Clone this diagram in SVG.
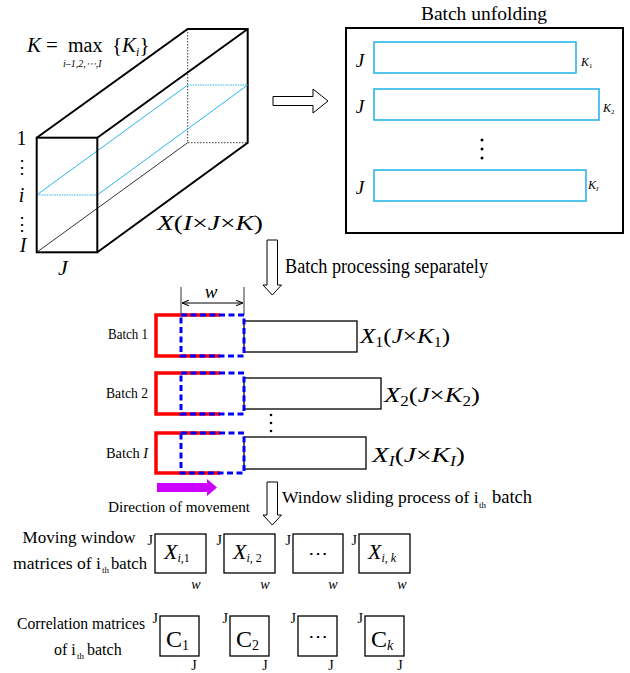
<svg xmlns="http://www.w3.org/2000/svg" width="630" height="673" viewBox="0 0 630 673">
<defs>
<style>
.t{font-family:"Liberation Serif","DejaVu Serif",serif;fill:#000}
.it{font-style:italic}
.up{font-style:normal}
.thick{fill:none;stroke:#000;stroke-width:2}
.thin{fill:none;stroke:#000;stroke-width:0.8}
.dot{fill:none;stroke:#000;stroke-width:0.8;stroke-dasharray:1.5,1.5}
.blue{fill:none;stroke:#29b6ea;stroke-width:1}
.bluedot{fill:none;stroke:#29b6ea;stroke-width:1;stroke-dasharray:1.5,1}
.brect{fill:#fff;stroke:#29b6ea;stroke-width:1.6}
.box{fill:#fff;stroke:#000;stroke-width:1.3}
.red{fill:none;stroke:#ff0000;stroke-width:3.5}
.bdash{fill:none;stroke:#0000ff;stroke-width:3;stroke-dasharray:6,3.5}
.hollow{fill:#fff;stroke:#000;stroke-width:1}
</style>
<marker id="ah" viewBox="0 0 10 10" refX="10" refY="5" markerWidth="7" markerHeight="7" orient="auto-start-reverse">
<path d="M0,1 L10,5 L0,9" fill="none" stroke="#000" stroke-width="1.5"/>
</marker>
</defs>
<rect width="630" height="673" fill="#fff"/>

<g id="cube">
<path d="M36.7,137.7 L187.7,29 L247.7,29 L247.7,142.7 L97.3,252.3 M97.3,137.7 L247.7,29" class="thick"/>
<path d="M36.7,252.3 L187.7,142.7" class="thin"/>
<path d="M187.7,29 V142.7 H247.7" class="dot"/>
<path d="M36.7,195 L187.7,85 M97.3,195 L247.7,85" class="blue"/>
<path d="M36.7,195 H97.3 M187.7,85 H247.7" class="bluedot"/>
<rect x="36.7" y="137.7" width="60.6" height="114.6" class="thick"/>
<text x="27" y="52" class="t it" font-size="21">K</text>
<text x="46" y="52" class="t" font-size="21">=</text>
<text x="68" y="52" class="t" font-size="20">max</text>
<text x="112" y="52" class="t" font-size="21">{<tspan class="it">K</tspan><tspan class="it" font-size="12" dy="4">i</tspan><tspan dy="-4">}</tspan></text>
<text x="63" y="67" class="t it" font-size="10">i–1,2,⋯,I</text>
<text x="21.5" y="145" class="t" font-size="20" text-anchor="middle">1</text>
<text x="21.5" y="173" class="t" font-size="18" text-anchor="middle">⋮</text>
<text x="21.5" y="202" class="t it" font-size="20" text-anchor="middle">i</text>
<text x="21.5" y="230" class="t" font-size="18" text-anchor="middle">⋮</text>
<text x="23" y="252" class="t it" font-size="20" text-anchor="middle">I</text>
<text x="63" y="275" class="t it" font-size="22" text-anchor="middle">J</text>
<text x="157" y="230" class="t it" font-size="21" textLength="106" lengthAdjust="spacingAndGlyphs">X<tspan class="up">(</tspan>I<tspan class="up">×</tspan>J<tspan class="up">×</tspan>K<tspan class="up">)</tspan></text>
</g>

<g id="unfold">
<text x="484" y="20" class="t" font-size="19.5" text-anchor="middle">Batch unfolding</text>
<rect x="346" y="28" width="277" height="205" fill="#fff" stroke="#000" stroke-width="2"/>
<rect x="374" y="42" width="202" height="31" class="brect"/>
<rect x="374" y="89" width="225" height="31" class="brect"/>
<rect x="374" y="170" width="212" height="31" class="brect"/>
<text x="360" y="67" class="t it" font-size="19" text-anchor="middle">J</text>
<text x="360" y="113" class="t it" font-size="19" text-anchor="middle">J</text>
<text x="360" y="194" class="t it" font-size="19" text-anchor="middle">J</text>
<text x="581" y="66" class="t it" font-size="12">K<tspan class="up" font-size="7" dy="2">1</tspan></text>
<text x="603" y="112" class="t it" font-size="12">K<tspan class="up" font-size="7" dy="2">2</tspan></text>
<text x="588" y="189" class="t it" font-size="12">K<tspan font-size="7" dy="2">I</tspan></text>
<circle cx="482" cy="140" r="1.5"/>
<circle cx="482" cy="149" r="1.5"/>
<circle cx="482" cy="158" r="1.5"/>
</g>

<g id="connectors">
<path d="M273,96.5 H313 V89 L328,101 L313,113 V105.5 H273 Z" class="hollow"/>
<path d="M267,240 H277.5 V285 H281.5 L272.3,295 L263,285 H267 Z" class="hollow"/>
<path d="M267,482 H277.5 V515 H281.5 L272.3,525 L263,515 H267 Z" class="hollow"/>
<path d="M157,483 H207 V479 L217,487.5 L207,496 V492 H157 Z" fill="#cc00ff"/>
</g>
<text x="285" y="273" class="t" font-size="20" textLength="203" lengthAdjust="spacingAndGlyphs">Batch processing separately</text>
<text x="282" y="503" class="t" font-size="17.5">Window sliding process of i</text>
<text x="479" y="508" class="t" font-size="9">th</text>
<text x="492" y="503" class="t" font-size="18.5">batch</text>
<text x="108" y="512" class="t" font-size="15" textLength="142" lengthAdjust="spacingAndGlyphs">Direction  of  movement</text>

<g id="width-dim">
<path d="M181,287 V315 M244,287 V315" stroke="#333" stroke-width="1" fill="none"/>
<path d="M182,303 H243" stroke="#000" stroke-width="1" fill="none" marker-start="url(#ah)" marker-end="url(#ah)"/>
<text x="211" y="298" class="t it" font-size="19" text-anchor="middle">w</text>
</g>

<g id="batch1">
<text x="108" y="339" class="t" font-size="14" textLength="40" lengthAdjust="spacingAndGlyphs">Batch 1</text>
<rect x="244" y="321" width="113" height="31" class="box"/>
<path d="M220,315 H156 V356 H220" class="red"/>
<rect x="181" y="315" width="63" height="41" class="bdash"/>
<text x="360" y="343" class="t it" font-size="22" textLength="90" lengthAdjust="spacingAndGlyphs">X<tspan class="up" font-size="14" dy="4">1</tspan><tspan class="up" dy="-4">(</tspan>J<tspan class="up">×</tspan>K<tspan class="up" font-size="14" dy="4">1</tspan><tspan class="up" dy="-4">)</tspan></text>
</g>

<g id="batch2">
<text x="106" y="398" class="t" font-size="14" textLength="42" lengthAdjust="spacingAndGlyphs">Batch 2</text>
<rect x="244" y="378" width="137" height="31" class="box"/>
<path d="M220,373 H156 V414 H220" class="red"/>
<rect x="181" y="373" width="63" height="41" class="bdash"/>
<text x="384" y="402" class="t it" font-size="22" textLength="96" lengthAdjust="spacingAndGlyphs">X<tspan class="up" font-size="14" dy="4">2</tspan><tspan class="up" dy="-4">(</tspan>J<tspan class="up">×</tspan>K<tspan class="up" font-size="14" dy="4">2</tspan><tspan class="up" dy="-4">)</tspan></text>
</g>

<g id="batch-dots">
<circle cx="271" cy="415" r="1.3"/>
<circle cx="271" cy="423" r="1.3"/>
<circle cx="271" cy="431" r="1.3"/>
</g>

<g id="batchI">
<text x="106" y="458" class="t" font-size="14" textLength="42" lengthAdjust="spacingAndGlyphs">Batch <tspan class="it">I</tspan></text>
<rect x="244" y="437" width="122" height="32" class="box"/>
<path d="M220,433 H156 V473 H220" class="red"/>
<rect x="181" y="433" width="63" height="40" class="bdash"/>
<text x="372" y="462" class="t it" font-size="22" textLength="93" lengthAdjust="spacingAndGlyphs">X<tspan font-size="14" dy="4">I</tspan><tspan class="up" dy="-4">(</tspan>J<tspan class="up">×</tspan>K<tspan font-size="14" dy="4">I</tspan><tspan class="up" dy="-4">)</tspan></text>
</g>

<g id="window-label">
<text x="79" y="543" class="t" font-size="17" text-anchor="middle">Moving window</text>
<text x="13" y="569" class="t" font-size="17" textLength="88" lengthAdjust="spacingAndGlyphs">matrices of i</text>
<text x="102" y="573" class="t" font-size="9">th</text>
<text x="111" y="569" class="t" font-size="17" textLength="36" lengthAdjust="spacingAndGlyphs">batch</text>
</g>

<g id="win1">
<rect x="155" y="534" width="51" height="39" class="box"/>
<text x="153" y="545" class="t" font-size="14" text-anchor="end">J</text>
<text x="196" y="589" class="t it" font-size="14" text-anchor="middle">w</text>
<text x="164" y="559" class="t it" font-size="22">X<tspan font-size="12" dy="3">i,</tspan><tspan class="up" font-size="12">1</tspan></text>
</g>
<g id="win2">
<rect x="224" y="534" width="51" height="39" class="box"/>
<text x="222" y="545" class="t" font-size="14" text-anchor="end">J</text>
<text x="265" y="589" class="t it" font-size="14" text-anchor="middle">w</text>
<text x="233" y="559" class="t it" font-size="22">X<tspan font-size="12" dy="3">i,</tspan><tspan class="up" font-size="12"> 2</tspan></text>
</g>
<g id="win3">
<rect x="293" y="534" width="50" height="39" class="box"/>
<text x="291" y="545" class="t" font-size="14" text-anchor="end">J</text>
<text x="333" y="589" class="t it" font-size="14" text-anchor="middle">w</text>
<text x="318" y="560" class="t" font-size="20" text-anchor="middle">⋯</text>
</g>
<g id="win4">
<rect x="359" y="534" width="51" height="39" class="box"/>
<text x="357" y="545" class="t" font-size="14" text-anchor="end">J</text>
<text x="402" y="589" class="t it" font-size="14" text-anchor="middle">w</text>
<text x="368" y="559" class="t it" font-size="22">X<tspan font-size="12" dy="3">i, k</tspan></text>
</g>

<g id="corr-label">
<text x="81" y="629" class="t" font-size="16" text-anchor="middle" textLength="128" lengthAdjust="spacingAndGlyphs">Correlation matrices</text>
<text x="54" y="655" class="t" font-size="16">of i</text>
<text x="77" y="659" class="t" font-size="9">th</text>
<text x="87" y="655" class="t" font-size="16">batch</text>
</g>

<g id="corr1">
<rect x="160" y="616" width="39" height="40" class="box"/>
<text x="158" y="623" class="t" font-size="14" text-anchor="end">J</text>
<text x="194" y="670" class="t" font-size="14" text-anchor="middle">J</text>
<text x="166" y="647" class="t" font-size="24">C<tspan font-size="14" dy="3">1</tspan></text>
</g>
<g id="corr2">
<rect x="230" y="616" width="39" height="40" class="box"/>
<text x="228" y="623" class="t" font-size="14" text-anchor="end">J</text>
<text x="265" y="670" class="t" font-size="14" text-anchor="middle">J</text>
<text x="236" y="647" class="t" font-size="24">C<tspan font-size="14" dy="3">2</tspan></text>
</g>
<g id="corr3">
<rect x="298" y="616" width="39" height="40" class="box"/>
<text x="296" y="623" class="t" font-size="14" text-anchor="end">J</text>
<text x="331" y="670" class="t" font-size="14" text-anchor="middle">J</text>
<text x="317.5" y="643" class="t" font-size="20" text-anchor="middle">⋯</text>
</g>
<g id="corr4">
<rect x="365" y="616" width="39" height="40" class="box"/>
<text x="363" y="623" class="t" font-size="14" text-anchor="end">J</text>
<text x="400" y="670" class="t" font-size="14" text-anchor="middle">J</text>
<text x="371" y="647" class="t" font-size="24">C<tspan class="it" font-size="14" dy="3">k</tspan></text>
</g>
</svg>
